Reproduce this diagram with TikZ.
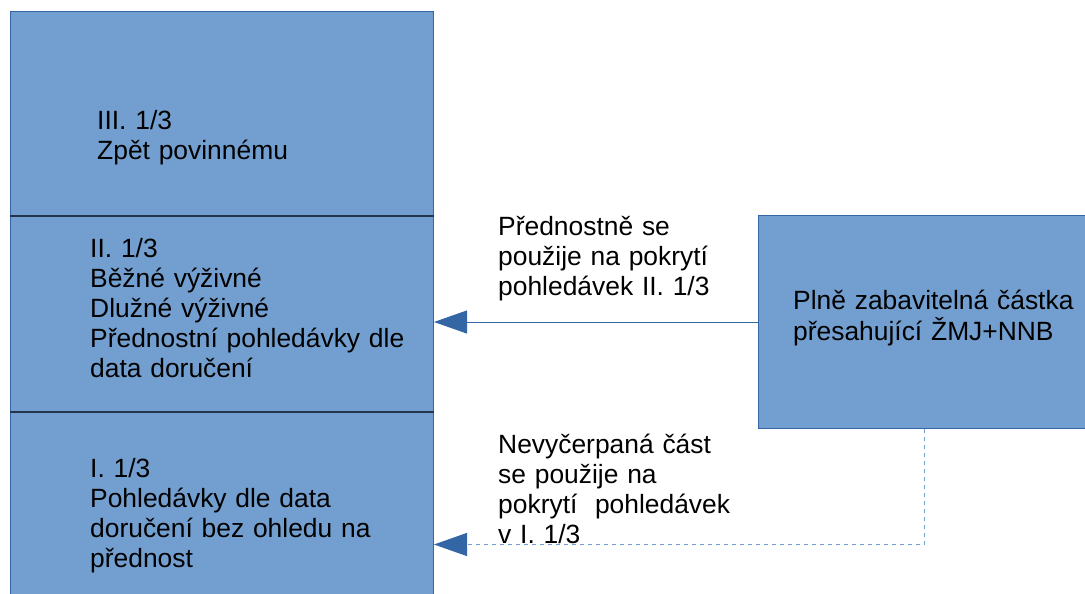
\documentclass[tikz,border=0pt]{standalone}
\usepackage{fontspec}
\setmainfont{Liberation Sans}
\usetikzlibrary{arrows.meta}
\definecolor{boxfill}{HTML}{729FCF}
\definecolor{boxline}{HTML}{3465A4}
\definecolor{divline}{HTML}{24344C}
\tikzset{
  blk/.style={draw=boxline, fill=boxfill, line width=1pt, inner sep=0pt, anchor=north west},
  txt/.style={inner sep=0pt, text width=360pt, align=left, anchor=base west,
    font=\fontsize{26.4}{30}\selectfont},
  arr/.style={draw=boxline, line width=1pt, -{Triangle[length=33pt,width=23pt]}, fill=boxline},
  dasharr/.style={draw=boxfill, line width=1.2pt, dash pattern=on 4pt off 4pt,
    -{Triangle[length=33pt,width=23pt,fill=boxline,color=boxline]}},
  divider/.style={draw=divline, line width=1.5pt}
}
\begin{document}
\begin{tikzpicture}[x=1pt,y=-1pt]
\useasboundingbox (0,0) rectangle (1085,594);
\clip (0,0) rectangle (1085,594);
% left stack
\node[blk, minimum width=423pt, minimum height=204pt] (b3) at (10,11) {};
\node[blk, minimum width=423pt, minimum height=196pt] (b2) at (10,215) {};
\node[blk, minimum width=423pt, minimum height=266pt] (b1) at (10,411) {};
\draw[divider] (b3.south west) -- (b3.south east);
\draw[divider] (b2.south west) -- (b2.south east);
% right box
\node[blk, minimum width=332pt, minimum height=213pt] (rb) at (758,215) {};
% texts
\node[txt] (t3) at (97,129) {III. 1/3\\Zpět povinnému};
\node[txt] (t2) at (90,257) {II. 1/3\\Běžné výživné\\Dlužné výživné\\Přednostní pohledávky dle\\data doručení};
\node[txt] (t1) at (90,477) {I. 1/3\\Pohledávky dle data\\doručení bez ohledu na\\přednost};
\node[txt, font=\fontsize{26.4}{31}\selectfont] (tr) at (793,309) {Plně zabavitelná částka\\přesahující ŽMJ+NNB};
\node[txt] (l1) at (498,235) {Přednostně se\\použije na pokrytí\\pohledávek II. 1/3};
\node[txt] (l2) at (498,453) {Nevyčerpaná část\\se použije na\\pokrytí\ \ pohledávek\\v I. 1/3};
% connectors
\draw[arr] (rb.west) -- (rb.west -| b2.east);
\draw[dasharr] (rb.south) |- (b1.east);
\end{tikzpicture}
\end{document}
